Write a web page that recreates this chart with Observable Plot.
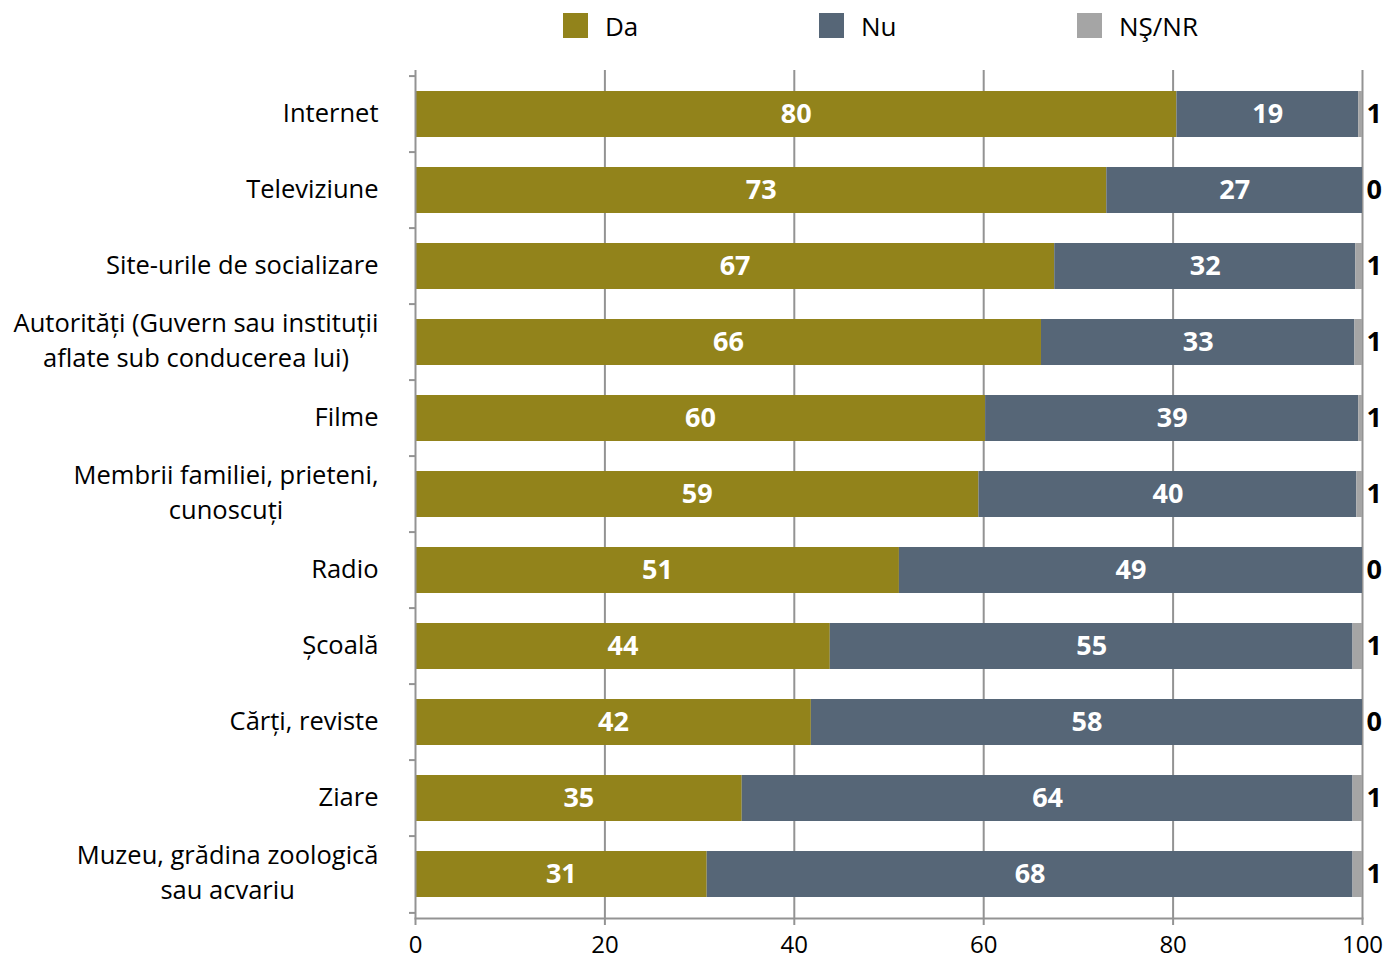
<!DOCTYPE html>
<html><head><meta charset="utf-8">
<script src="https://cdn.jsdelivr.net/npm/d3@7"></script>
<script src="https://cdn.jsdelivr.net/npm/@observablehq/plot@0.6"></script>
<style>
html,body{margin:0;padding:0;background:#fff;font-family:"Open Sans",sans-serif;overflow:hidden;}
#legend{position:relative;height:55px;width:1400px;}
#chart svg{display:block;}
.item{position:absolute;top:12px;height:27px;display:flex;align-items:center;font-size:26px;color:#000;}
.sw{width:25px;height:25px;margin-right:17px;}
</style></head><body>
<div id="legend"></div><div id="chart"></div>
<script>
const categories = ["Internet","Televiziune","Site-urile de socializare","Autorități (Guvern sau instituții\naflate sub conducerea lui)","Filme","Membrii familiei, prieteni,\ncunoscuți","Radio","Școală","Cărți, reviste","Ziare","Muzeu, grădina zoologică\nsau acvariu"];
const series = ["Da","Nu","NŞ/NR"];
const da = [80.4,73.0,67.5,66.1,60.2,59.5,51.1,43.8,41.8,34.5,30.8];
const nu = [19.2,27.0,31.8,33.1,39.4,39.9,48.9,55.2,58.2,64.5,68.2];
const ns = [0.4,0,0.7,0.8,0.4,0.6,0,1.0,0,1.0,1.0];
const daLabels = [80,73,67,66,60,59,51,44,42,35,31];
const nuLabels = [19,27,32,33,39,40,49,55,58,64,68];
const nsLabels = [1,0,1,1,1,1,0,1,0,1,1];
const xTicks = [0,20,40,60,80,100];
const colors = ["#92831B","#566677","#A5A5A5"];

const rows = [];
categories.forEach((c,i)=>{
  const vals=[da[i],nu[i],ns[i]], labs=[daLabels[i],nuLabels[i],nsLabels[i]];
  let s=0;
  series.forEach((k,j)=>{ rows.push({cat:c,key:k,x1:s,x2:s+vals[j],label:labs[j]}); s+=vals[j]; });
});

// legend
const leg=document.getElementById("legend");
const legX=[563,819,1077];
series.forEach((k,j)=>{
  const d=document.createElement("div"); d.className="item"; d.style.left=legX[j]+"px";
  d.innerHTML=`<span class="sw" style="background:${colors[j]}"></span><span>${k}</span>`;
  leg.appendChild(d);
});

const W=1400,H=900,mt=15,mb=37,ml=415,mr=38;
const n=categories.length;
const pI=0.4,pO=0.22;
const step=(H-mt-mb)/(n-pI+2*pO);
const grey="#939393";
const chart=Plot.plot({
  width:W,height:H,marginTop:mt,marginBottom:mb,marginLeft:ml,marginRight:mr,
  style:{fontFamily:"Open Sans",fontSize:"24px",background:"#fff",overflow:"visible",color:"#000"},
  x:{domain:[0,100],axis:null},
  y:{domain:categories,paddingInner:pI,paddingOuter:pO,axis:null},
  color:{domain:series,range:colors},
  marks:[
    Plot.ruleX(xTicks.slice(1),{stroke:grey,strokeWidth:2}),
    Plot.barX(rows,{x1:"x1",x2:"x2",y:"cat",fill:"key"}),
    Plot.ruleY(categories,{y:d=>d,x1:0,x2:0,insetLeft:-6,dy:-step/2,stroke:grey,strokeWidth:2}),
    Plot.ruleY([categories[n-1]],{y:d=>d,x1:0,x2:0,insetLeft:-6,dy:step/2,stroke:grey,strokeWidth:2}),
    Plot.ruleX([0],{stroke:grey,strokeWidth:2}),
    Plot.frame({anchor:"bottom",stroke:grey,strokeWidth:2}),
    Plot.axisX({ticks:xTicks,tickSize:7,tickPadding:10,fontSize:24,stroke:grey,strokeWidth:2,tickFormat:d=>d,label:null}),
    Plot.text(rows.filter(r=>r.key!=="NŞ/NR"),{x:d=>(d.x1+d.x2)/2,y:"cat",text:"label",fill:"white",fontWeight:"bold",fontSize:27,dy:0}),
    Plot.text(rows.filter(r=>r.key==="NŞ/NR"),{x:"x2",y:"cat",text:"label",dx:4,textAnchor:"start",fill:"black",fontWeight:"bold",fontSize:27,dy:0}),
    Plot.text(categories,{y:d=>d,x:0,text:d=>d,dx:-37,dy:-4,textAnchor:"end",fontSize:25.5,lineHeight:1.35,fill:"black",className:"ylab"})
  ]
});
document.getElementById("chart").appendChild(chart);
// center multi-line labels within their block
chart.querySelectorAll(".ylab text").forEach(t=>{
  const sp=t.querySelectorAll("tspan");
  if(sp.length>1){
    let m=0; sp.forEach(s=>{m=Math.max(m,s.getComputedTextLength());});
    t.setAttribute("text-anchor","middle");
    sp.forEach(s=>s.setAttribute("x",-m/2));
  }
});
</script></body></html>
